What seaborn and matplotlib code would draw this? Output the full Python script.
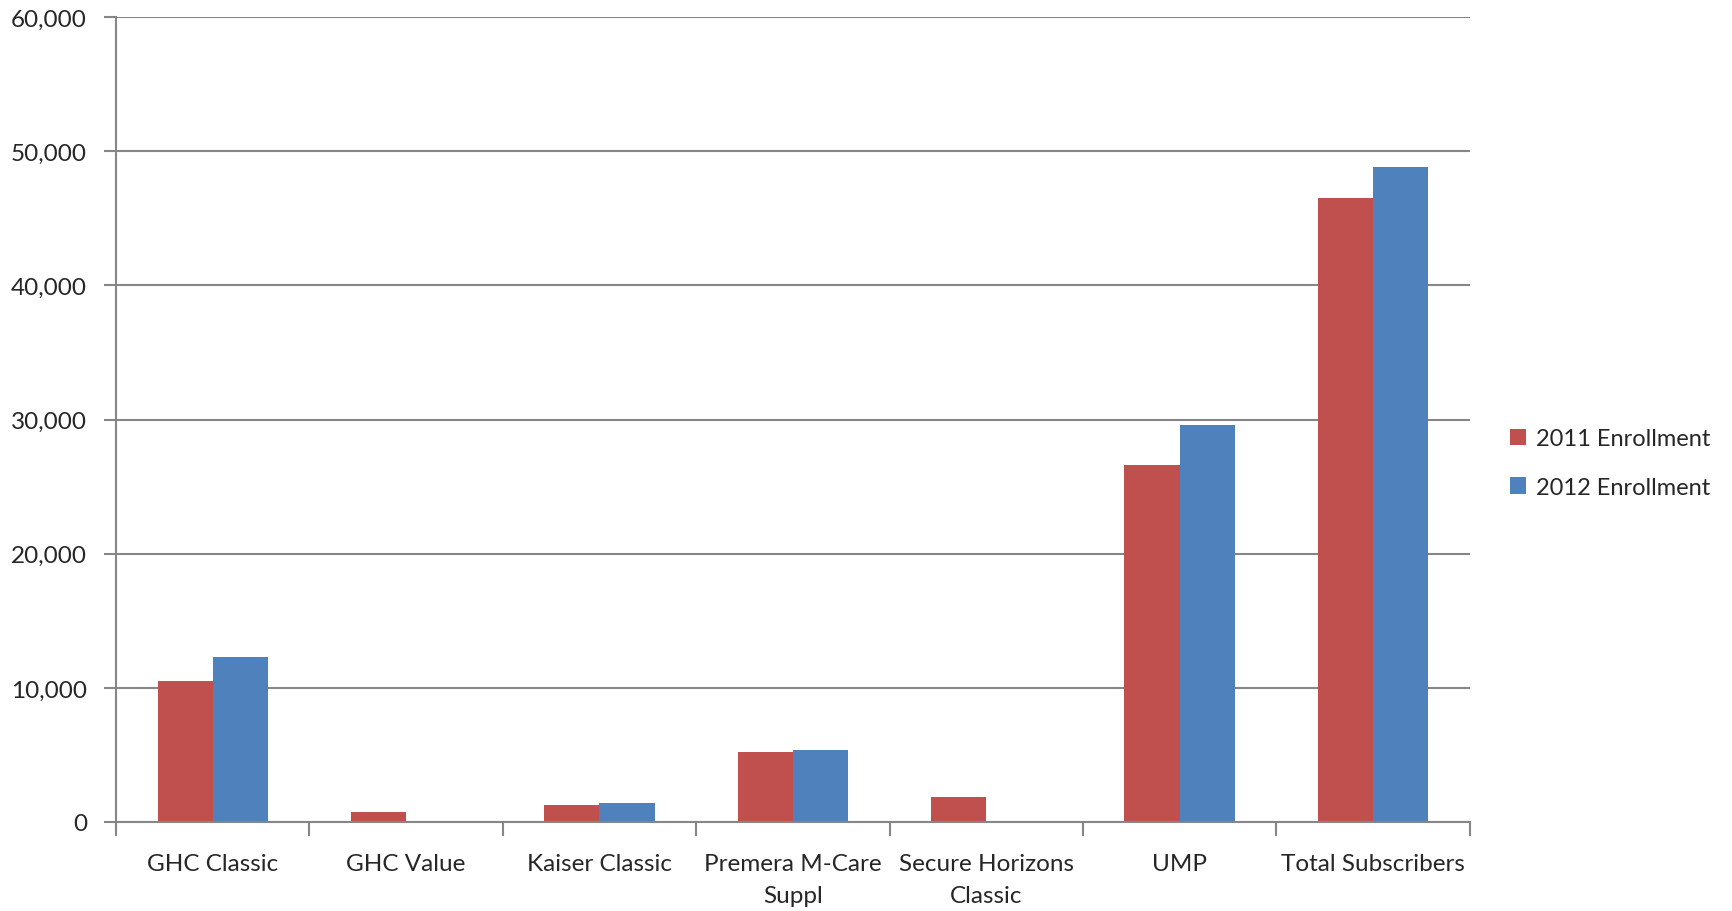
import matplotlib
matplotlib.use("Agg")
import matplotlib.pyplot as plt
import pandas as pd
import seaborn as sns
from matplotlib.ticker import FuncFormatter, FixedLocator

plans = ["GHC Classic", "GHC Value", "Kaiser Classic", "Premera M-Care\nSuppl",
         "Secure Horizons\nClassic", "UMP", "Total Subscribers"]
enroll_2011 = [10540, 720, 1290, 5200, 1840, 26620, 46510]
enroll_2012 = [12330, 0, 1420, 5370, 0, 29600, 48820]
series = ["2011 Enrollment", "2012 Enrollment"]
colors = ["#C0504D", "#4F81BD"]

df = pd.DataFrame({
    "plan": plans * 2,
    "series": [series[0]] * len(plans) + [series[1]] * len(plans),
    "value": enroll_2011 + enroll_2012,
})

sns.set_style("white")
plt.rcParams["font.family"] = ["Lato", "DejaVu Sans"]

fig = plt.figure(figsize=(17.33, 9.12), dpi=100)
ax = fig.add_axes([0.067, 0.0976, 0.781, 0.8824])

sns.barplot(data=df, x="plan", y="value", hue="series", palette=colors,
            width=0.57, saturation=1, edgecolor="none", ax=ax)

grey = "#868686"
ax.set_ylim(0, 60000)
ax.set_xlim(-0.5, len(plans) - 0.5)
ax.set_yticks(range(0, 60001, 10000))
ax.yaxis.set_major_formatter(FuncFormatter(lambda v, p: f"{int(v):,}"))
ax.grid(axis="y", color=grey, lw=1.5)
ax.set_axisbelow(True)
for s in ["top", "right"]:
    ax.spines[s].set_visible(False)
for s in ["left", "bottom"]:
    ax.spines[s].set_color(grey)
    ax.spines[s].set_linewidth(1.5)

ax.xaxis.set_minor_locator(FixedLocator([i - 0.5 for i in range(len(plans) + 1)]))
ax.tick_params(axis="x", which="major", length=0, pad=22, labelsize=17.5)
ax.tick_params(axis="x", which="minor", length=10, width=1.5, color=grey, direction="out")
ax.tick_params(axis="y", length=9, width=1.5, color=grey, direction="out", labelsize=17.5, pad=12)
ax.tick_params(axis="y", left=True)
ax.tick_params(axis="x", which="minor", bottom=True)
for lbl in ax.get_xticklabels():
    lbl.set_linespacing(1.65)

ax.set_xlabel("")
ax.set_ylabel("")
ax.legend(loc="center left", bbox_to_anchor=(1.014, 0.446), frameon=False,
          fontsize=17, handlelength=0.7, handleheight=0.7, handletextpad=0.4,
          labelspacing=1.15)

fig.savefig("out.png", dpi=100, facecolor="white")
